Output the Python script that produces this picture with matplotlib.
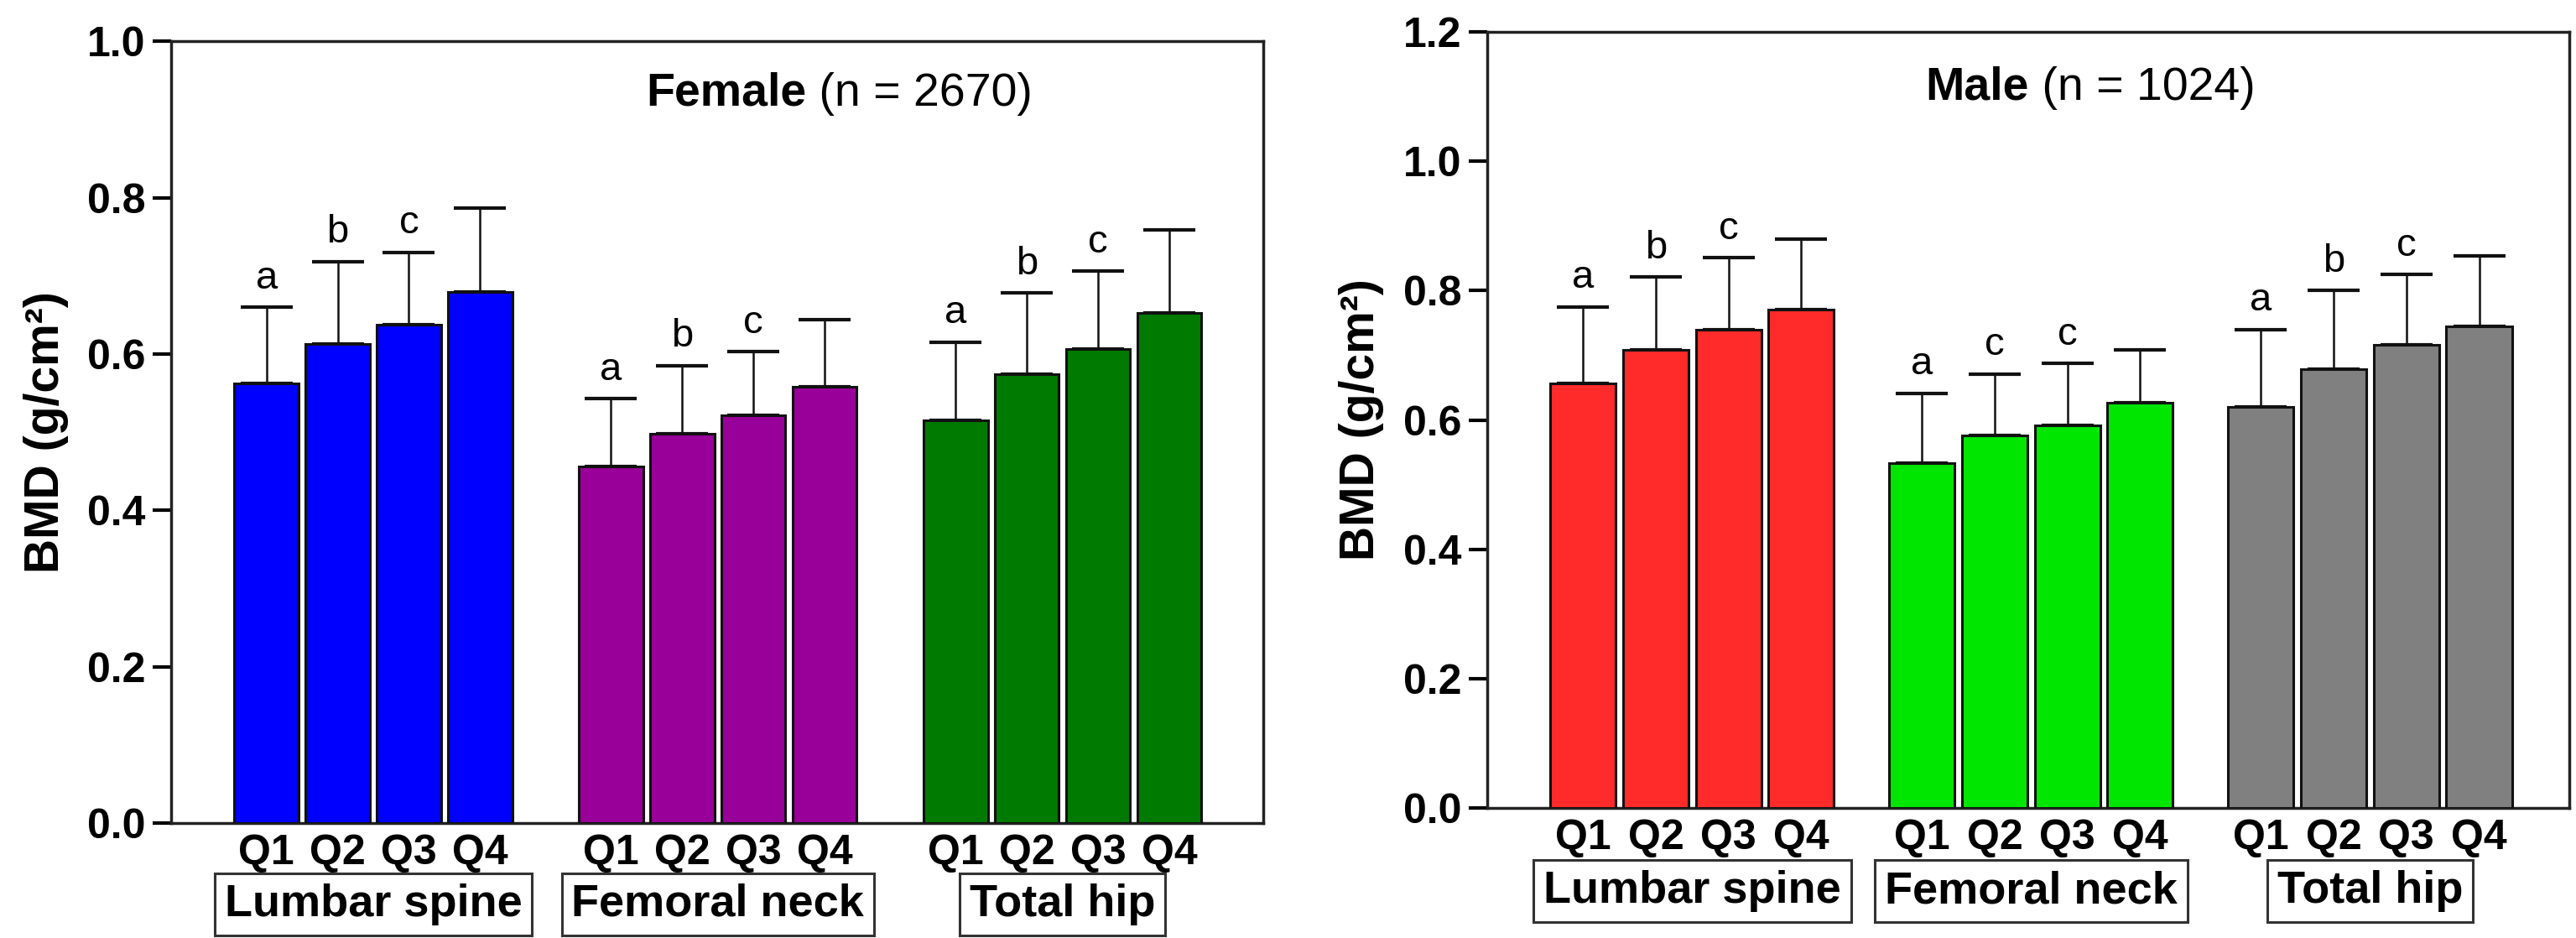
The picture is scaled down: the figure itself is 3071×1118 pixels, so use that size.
import matplotlib
matplotlib.use("Agg")
import matplotlib.pyplot as plt
import matplotlib.transforms as mtransforms
import numpy as np

# ── Data ──────────────────────────────────────────────────────────────────────

QUARTILES = ["Q1", "Q2", "Q3", "Q4"]
SITES = ["Lumbar spine", "Femoral neck", "Total hip"]

female_mean = [[0.562, 0.613, 0.637, 0.679],
               [0.456, 0.498, 0.522, 0.558],
               [0.515, 0.574, 0.606, 0.652]]
female_sd = [[0.098, 0.105, 0.093, 0.108],
             [0.087, 0.087, 0.081, 0.086],
             [0.100, 0.104, 0.100, 0.107]]
female_letters = [["a", "b", "c", ""],
                  ["a", "b", "c", ""],
                  ["a", "b", "c", ""]]

male_mean = [[0.657, 0.709, 0.740, 0.770],
             [0.533, 0.576, 0.591, 0.626],
             [0.620, 0.679, 0.716, 0.745]]
male_sd = [[0.118, 0.112, 0.111, 0.109],
           [0.108, 0.095, 0.096, 0.082],
           [0.120, 0.121, 0.109, 0.109]]
male_letters = [["a", "b", "c", ""],
                ["a", "c", "c", ""],
                ["a", "b", "c", ""]]

# ── Style ─────────────────────────────────────────────────────────────────────

plt.rcParams["font.family"] = ["Liberation Sans", "DejaVu Sans"]

FEMALE_COLORS = ["#0000FF", "#990099", "#007A00"]
MALE_COLORS = ["#FF2A2A", "#00E600", "#808080"]
EDGE = "#111111"


def draw_panel(ax, means, sds, letters, colors, title_bold, title_rest,
               ymax, group_step, xlim, title_xy, label_y):
    ax.set_ylim(0, ymax)
    ax.set_xlim(*xlim)
    xticks, xlabels = [], []
    trans = mtransforms.blended_transform_factory(ax.transData, ax.transAxes)
    for g in range(len(SITES)):
        x = g * group_step + np.arange(4)
        ax.bar(x, means[g], width=0.9, color=colors[g], edgecolor=EDGE,
               linewidth=2.2, zorder=3)
        ax.errorbar(x, means[g], yerr=[np.zeros(4), sds[g]], fmt="none",
                    ecolor=EDGE, elinewidth=1.8, capsize=22, capthick=3,
                    zorder=2)
        for xi, m, s, lab in zip(x, means[g], sds[g], letters[g]):
            if lab:
                ax.annotate(lab, (xi, m + s), xytext=(0, 9),
                            textcoords="offset points", ha="center",
                            va="bottom", fontsize=34)
        xticks.extend(x)
        xlabels.extend(QUARTILES)
        ax.text(x.mean(), label_y, SITES[g], transform=trans, ha="center",
                va="center", fontsize=39, fontweight="bold",
                bbox=dict(boxstyle="square,pad=0.22", fc="white",
                          ec="#333333", lw=2.2))
    ax.set_xticks(xticks)
    ax.set_xticklabels(xlabels, fontsize=36, fontweight="bold")
    ax.tick_params(axis="x", length=0, pad=9)
    yt = np.arange(0, ymax + 0.001, 0.2)
    ax.set_yticks(yt)
    ax.set_yticklabels([f"{v:.1f}" for v in yt], fontsize=36,
                       fontweight="bold")
    ax.tick_params(axis="y", length=16, width=3, pad=6, direction="out")
    for sp in ax.spines.values():
        sp.set_linewidth(2.5)
        sp.set_color("#222222")
    ax.set_ylabel("BMD (g/cm²)", fontsize=41, fontweight="bold", labelpad=16)
    # bold sex label followed by the regular n = ... part
    t1 = ax.text(title_xy[0], title_xy[1], title_bold, transform=ax.transAxes,
                 ha="left", va="center", fontsize=40, fontweight="bold")
    fig.canvas.draw()
    bb = t1.get_window_extent().transformed(ax.transAxes.inverted())
    ax.text(bb.x1, title_xy[1], " " + title_rest, transform=ax.transAxes,
            ha="left", va="center", fontsize=40)


fig = plt.figure(figsize=(30.71, 11.18), dpi=100)
ax1 = fig.add_axes([0.0664, 0.1225, 0.424, 0.8335])
ax2 = fig.add_axes([0.5773, 0.1386, 0.4201, 0.8274])

draw_panel(ax1, female_mean, female_sd, female_letters, FEMALE_COLORS,
           "Female", "(n = 2670)", 1.0, 4.84, (-1.34, 14.0),
           (0.435, 0.933), -0.104)
draw_panel(ax2, male_mean, male_sd, male_letters, MALE_COLORS,
           "Male", "(n = 1024)", 1.2, 4.66, (-1.32, 13.56),
           (0.405, 0.928), -0.107)

fig.savefig("out.png", dpi=100)
